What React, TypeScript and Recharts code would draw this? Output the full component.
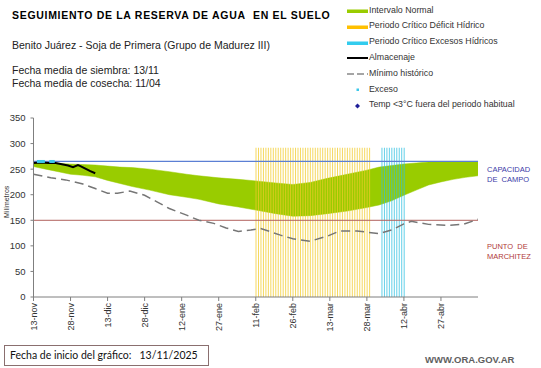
import React from "react";
import { Area, Bar, ComposedChart, Line, Scatter, XAxis, YAxis } from "recharts";

// ejes
const tickDays = [0, 15, 30, 45, 60, 75, 90, 105, 120, 135, 150, 165];
const tickLabels = ["13-nov", "28-nov", "13-dic", "28-dic", "12-ene", "27-ene", "11-feb", "26-feb", "13-mar", "28-mar", "12-abr", "27-abr"];
const yTicks = [0, 50, 100, 150, 200, 250, 300, 350];

// intervalo normal (días desde 13/11)
const bandDays = [0, 5, 10, 15, 20, 25, 30, 35, 40, 47, 55, 62, 67, 75, 83, 90, 98, 105, 112, 119, 127, 135, 140, 145, 150, 155, 160, 165, 170, 175, 180];
const bandLower = [255, 250, 245, 240, 238, 235, 228, 222, 216, 209, 200, 195, 191, 182, 176, 170, 163, 158, 159, 163, 168, 175, 180, 188, 199, 209, 219, 225, 230, 234, 237];
const bandUpper = [263, 262, 261, 260, 259, 258, 256, 254, 253, 250, 245, 240, 237, 233, 230, 227, 223, 220, 224, 232, 240, 248, 254, 257, 260, 262, 264, 265, 265, 265, 265];

// mínimo histórico
const minDays = [0, 7, 13, 20, 25, 30, 34, 39, 45, 50, 55, 62, 67, 73, 78, 83, 88, 92, 100, 105, 112, 119, 124, 131, 140, 145, 150, 153, 160, 167, 174, 180];
const minValues = [240, 233, 229, 221, 212, 203, 203, 207, 199, 186, 173, 160, 150, 144, 135, 128, 131, 134, 121, 114, 109, 119, 129, 129, 124, 131, 143, 148, 142, 140, 142, 152];

// almacenaje
const almDays = [0, 3, 6, 9, 12, 14, 16, 18, 19, 21, 23, 25];
const almValues = [262, 263, 262, 262, 259, 257, 254, 258, 256, 251, 246, 242];

// exceso
const excesoDays = [2, 3, 4, 7, 8];
const excesoValue = 265;

// periodos críticos [inicio, fin]
const deficitPeriod = [90, 136];
const excesoPeriod = [141, 150];
const periodTop = 292;

// niveles de referencia
const levelDays = [0, 180];
const capacidadCampo = 265;
const puntoMarchitez = 150;

const expand = (p: number[]) => {
  const out: number[] = [];
  for (let d = p[0]; d <= p[1]; d++) out.push(d);
  return out;
};

const deficitDays = expand(deficitPeriod);
const excesoPeriodDays = expand(excesoPeriod);

const allDays = Array.from(new Set([...bandDays, ...minDays, ...almDays, ...deficitDays, ...excesoPeriodDays, ...levelDays])).sort((a, b) => a - b);

const data = allDays.map((day) => {
  const bi = bandDays.indexOf(day);
  const mi = minDays.indexOf(day);
  const ai = almDays.indexOf(day);
  const lvl = levelDays.includes(day);
  return {
    day,
    band: bi >= 0 ? [bandLower[bi], bandUpper[bi]] : undefined,
    minimo: mi >= 0 ? minValues[mi] : undefined,
    alm: ai >= 0 ? almValues[ai] : undefined,
    deficit: deficitDays.includes(day) ? periodTop : undefined,
    excesoP: excesoPeriodDays.includes(day) ? periodTop : undefined,
    capacidad: lvl ? capacidadCampo : undefined,
    marchitez: lvl ? puntoMarchitez : undefined,
  };
});

const excesoData = excesoDays.map((day) => ({ day, exceso: excesoValue }));

const FONT = "'Liberation Sans', Arial, sans-serif";

const XTick = ({ x, y, payload }: any) => {
  const i = tickDays.indexOf(payload.value);
  return (
    <text x={x} y={y} dy="0.35em" transform={`rotate(-90 ${x} ${y})`} textAnchor="end" fontSize={9} fill="#333" fontFamily={FONT}>
      {tickLabels[i]}
    </text>
  );
};

const ExcesoDot = ({ cx, cy }: any) => <rect x={cx - 1.5} y={cy - 1.5} width={3} height={3} fill="#3CC8EA" />;

const legendItems = [
  { label: "Intervalo Normal", kind: "bar", color: "#99CC00" },
  { label: "Periodo Crítico Déficit Hídrico", kind: "bar", color: "#FFC000" },
  { label: "Periodo Crítico Excesos Hídricos", kind: "bar", color: "#33CCEE" },
  { label: "Almacenaje", kind: "line", color: "#000" },
  { label: "Mínimo histórico", kind: "dash", color: "#888" },
  { label: "Exceso", kind: "sq", color: "#3CC8EA" },
  { label: "Temp <3°C fuera del periodo habitual", kind: "dia", color: "#1F1F99" },
];

function Swatch({ kind, color }: { kind: string; color: string }) {
  return (
    <svg width={22} height={8} style={{ position: "absolute", left: 0, top: 0 }}>
      {kind === "bar" && <rect x={0} y={2.5} width={21} height={3.5} fill={color} />}
      {kind === "line" && <line x1={0} x2={21} y1={4} y2={4} stroke={color} strokeWidth={2} />}
      {kind === "dash" && <line x1={0} x2={21} y1={4} y2={4} stroke={color} strokeWidth={1.3} strokeDasharray="7 3" />}
      {kind === "sq" && <rect x={9.5} y={2.5} width={2.5} height={2.5} fill={color} />}
      {kind === "dia" && <polygon points="10.5,1.5 13,4 10.5,6.5 8,4" fill={color} />}
    </svg>
  );
}

export default function App() {
  return (
    <div style={{ position: "absolute", left: 0, top: 0, width: 541, height: 368, background: "#fff", fontFamily: FONT, color: "#000" }}>
      <div style={{ position: "absolute", left: 12, top: 9, fontSize: 10.5, fontWeight: 700, whiteSpace: "nowrap", letterSpacing: 0.7 }}>
        SEGUIMIENTO DE LA RESERVA DE AGUA&nbsp; EN EL SUELO
      </div>
      <div style={{ position: "absolute", left: 12, top: 39, fontSize: 10.5, whiteSpace: "nowrap", color: "#222" }}>
        Benito Juárez - Soja de Primera (Grupo de Madurez III)
      </div>
      <div style={{ position: "absolute", left: 12, top: 64, fontSize: 10.5, lineHeight: "12.5px", whiteSpace: "nowrap", color: "#222" }}>
        Fecha media de siembra: 13/11
        <br />
        Fecha media de cosecha: 11/04
      </div>

      {legendItems.map((it, i) => (
        <div key={it.label} style={{ position: "absolute", left: 347, top: 7 + i * 15.8, height: 8, width: 190 }}>
          <Swatch kind={it.kind} color={it.color} />
          <div style={{ position: "absolute", left: 22, top: -2.5, fontSize: 8.8, color: "#333", whiteSpace: "nowrap" }}>{it.label}</div>
        </div>
      ))}

      <ComposedChart width={541} height={368} data={data} margin={{ top: 118, right: 63, left: 8, bottom: 36 }} style={{ position: "absolute", left: 0, top: 0 }}>
        <XAxis
          type="number"
          dataKey="day"
          domain={[0, 180]}
          ticks={tickDays}
          interval={0}
          allowDataOverflow
          height={35}
          tickSize={4}
          tickMargin={2}
          tick={<XTick />}
          axisLine={{ stroke: "#7f7f7f" }}
          tickLine={{ stroke: "#7f7f7f" }}
        />
        <YAxis
          type="number"
          domain={[0, 350]}
          ticks={yTicks}
          interval={0}
          width={25.5}
          tickSize={3}
          tickMargin={5}
          tick={{ fontSize: 9.5, fill: "#333", fontFamily: FONT }}
          axisLine={{ stroke: "#7f7f7f" }}
          tickLine={{ stroke: "#7f7f7f" }}
        />
        <Area dataKey="band" type="linear" stroke="#99CC00" strokeWidth={0.5} fill="#99CC00" fillOpacity={1} connectNulls dot={false} activeDot={false} isAnimationActive={false} />
        <Bar dataKey="deficit" stackId="p" barSize={1} fill="#F2CB2A" fillOpacity={0.75} isAnimationActive={false} />
        <Bar dataKey="excesoP" stackId="p" barSize={1} fill="#2EBFE0" fillOpacity={0.75} isAnimationActive={false} />
        <Line dataKey="capacidad" type="linear" stroke="#5B7FD4" strokeWidth={1.2} dot={false} activeDot={false} connectNulls isAnimationActive={false} />
        <Line dataKey="marchitez" type="linear" stroke="#B0605C" strokeWidth={1} dot={false} activeDot={false} connectNulls isAnimationActive={false} />
        <Line dataKey="minimo" type="linear" stroke="#767676" strokeWidth={1.5} strokeDasharray="9 5" dot={false} activeDot={false} connectNulls isAnimationActive={false} />
        <Line dataKey="alm" type="linear" stroke="#000" strokeWidth={2} dot={false} activeDot={false} connectNulls isAnimationActive={false} />
        <Scatter data={excesoData} dataKey="exceso" shape={<ExcesoDot />} isAnimationActive={false} />
      </ComposedChart>

      <div style={{ position: "absolute", left: 3, top: 206, transform: "rotate(-90deg)", transformOrigin: "left top", fontSize: 7, color: "#333" }}>
        <div style={{ position: "absolute", left: -12, top: 0, whiteSpace: "nowrap" }}>Milímetros</div>
      </div>

      <div style={{ position: "absolute", left: 487, top: 165, fontSize: 7.5, lineHeight: "9.5px", color: "#3B3BA8", whiteSpace: "pre" }}>
        {"CAPACIDAD\nDE  CAMPO"}
      </div>
      <div style={{ position: "absolute", left: 487, top: 242, fontSize: 7.5, lineHeight: "9.5px", color: "#B03A3A", whiteSpace: "pre" }}>
        {"PUNTO  DE\nMARCHITEZ"}
      </div>

      <div style={{ position: "absolute", left: 4, top: 345, width: 205, height: 21, border: "1px solid #8a6f6f", boxSizing: "border-box", fontFamily: "Lato, sans-serif", fontSize: 10.5, lineHeight: "19px", paddingLeft: 5, whiteSpace: "pre", color: "#111" }}>
        {"Fecha de inicio del gráfico:   13/11/2025"}
      </div>
      <div style={{ position: "absolute", left: 425, top: 354, fontSize: 9.5, fontWeight: 700, color: "#5f5f5f", whiteSpace: "nowrap" }}>
        WWW.ORA.GOV.AR
      </div>
    </div>
  );
}
